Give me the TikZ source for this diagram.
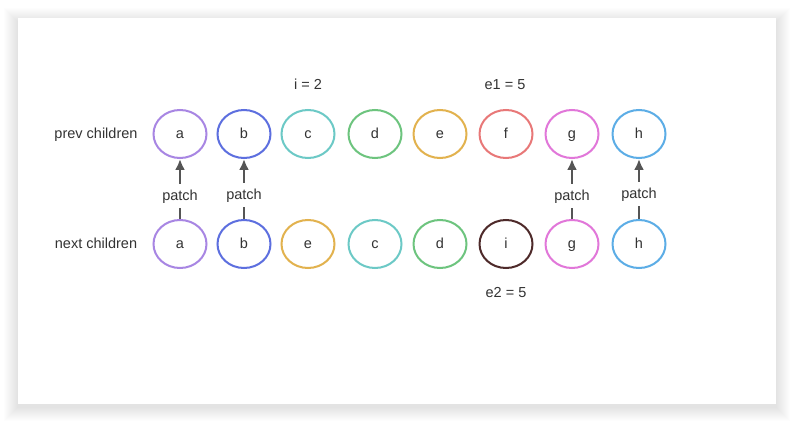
\documentclass[tikz,border=0pt]{standalone}
\usepackage{fontspec}
\setmainfont{Liberation Sans}
\usetikzlibrary{shapes.geometric,arrows.meta}
\definecolor{txt}{HTML}{333333}
\definecolor{arr}{HTML}{555555}
\definecolor{ca}{HTML}{A886E3}
\definecolor{cb}{HTML}{5D6FDF}
\definecolor{cc}{HTML}{6CC9C6}
\definecolor{cd}{HTML}{6DC47E}
\definecolor{ce}{HTML}{E2B24E}
\definecolor{cf}{HTML}{E87878}
\definecolor{cg}{HTML}{E177D9}
\definecolor{ch}{HTML}{5CADE6}
\definecolor{ci}{HTML}{4E2A2A}
\begin{document}
\begin{tikzpicture}
    [
    x=1pt,y=-1pt,
    every node/.style={font=\fontsize{14.5}{17}\selectfont,text=txt,text height=11.5pt,text depth=2.5pt},
    child/.style={ellipse,draw=#1,line width=2pt,minimum width=53pt,minimum height=48pt,inner sep=0pt},
    patchlabel/.style={inner xsep=2pt,inner ysep=5pt},
    patcharrow/.style={draw=arr,line width=2.5pt,-{Latex[length=11pt,width=10pt]}},
    patchline/.style={draw=arr,line width=2.5pt}
    ]
    \useasboundingbox (0,0) rectangle (794,422);
    % card with soft shadow
    \foreach \k in {1,...,14}
      \fill [black,opacity=0.007] (18-\k,18-\k+4) rectangle (776+\k,404+\k+3);
    \fill [white] (18,18) rectangle (776,404);
    % row labels
    \node (prev) at (96,134) {prev children};
    \node (next) at (96,244) {next children};
    % prev children
    \node (pa) at (180,134) [child=ca] {a};
    \node (pb) at (244,134) [child=cb] {b};
    \node (pc) at (308,134) [child=cc] {c};
    \node (pd) at (375,134) [child=cd] {d};
    \node (pe) at (440,134) [child=ce] {e};
    \node (pf) at (506,134) [child=cf] {f};
    \node (pg) at (572,134) [child=cg] {g};
    \node (ph) at (639,134) [child=ch] {h};
    % next children
    \node (na) at (180,244) [child=ca] {a};
    \node (nb) at (244,244) [child=cb] {b};
    \node (ne) at (308,244) [child=ce] {e};
    \node (nc) at (375,244) [child=cc] {c};
    \node (nd) at (440,244) [child=cd] {d};
    \node (ni) at (506,244) [child=ci] {i};
    \node (ng) at (572,244) [child=cg] {g};
    \node (nh) at (639,244) [child=ch] {h};
    % indices
    \node (idx) at (308,85) {i = 2};
    \node (eone) at (505,85) {e1 = 5};
    \node (etwo) at (506,293) {e2 = 5};
    % patch links
    \node (qa) at (180,196) [patchlabel] {patch};
    \node (qb) at (244,195) [patchlabel] {patch};
    \node (qg) at (572,196) [patchlabel] {patch};
    \node (qh) at (639,194) [patchlabel] {patch};
    \draw [patcharrow] (qa) to (pa);
    \draw [patcharrow] (qb) to (pb);
    \draw [patcharrow] (qg) to (pg);
    \draw [patcharrow] (qh) to (ph);
    \draw [patchline] (na) to (qa);
    \draw [patchline] (nb) to (qb);
    \draw [patchline] (ng) to (qg);
    \draw [patchline] (nh) to (qh);
  \end{tikzpicture}
\end{document}
